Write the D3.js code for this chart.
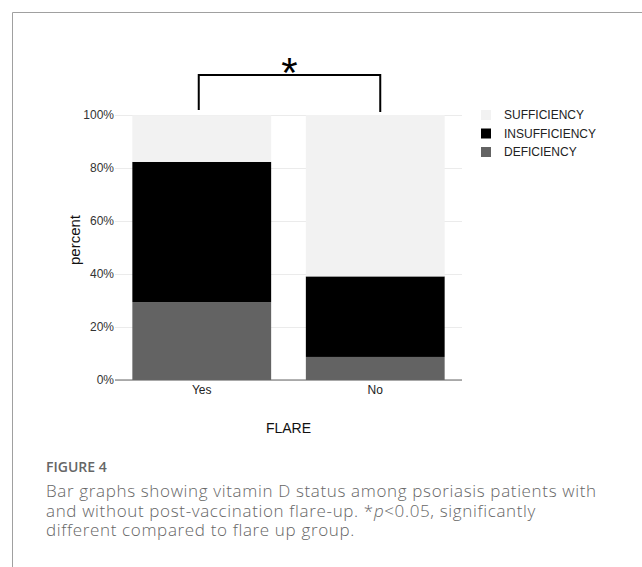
<!DOCTYPE html>
<html>
<head>
<meta charset="utf-8">
<script src="https://cdnjs.cloudflare.com/ajax/libs/d3/7.8.5/d3.min.js"></script>
<style>
  body { margin: 0; background: #fff; }
  svg { display: block; }
</style>
</head>
<body>
<svg id="chart" width="642" height="567"></svg>
<script>
// data (percent of each group)
var groups = ["Yes", "No"];
var statuses = ["DEFICIENCY", "INSUFFICIENCY", "SUFFICIENCY"];
var deficiency = [29.4, 8.7];
var insufficiency = [52.9, 30.4];
var sufficiency = [17.6, 60.9];
var yTicks = [0, 20, 40, 60, 80, 100];
var legendOrder = ["SUFFICIENCY", "INSUFFICIENCY", "DEFICIENCY"];
var colours = { SUFFICIENCY: "#f2f2f2", INSUFFICIENCY: "#000000", DEFICIENCY: "#636363" };

var svg = d3.select("#chart");
var axisFont = "Liberation Sans, Arial, sans-serif";

// frame lines of the figure panel
svg.append("line").attr("x1", 12.5).attr("x2", 642).attr("y1", 12.5).attr("y2", 12.5)
  .attr("stroke", "#a0a0a0").attr("stroke-width", 1);
svg.append("line").attr("x1", 12.5).attr("x2", 12.5).attr("y1", 12.5).attr("y2", 567)
  .attr("stroke", "#a0a0a0").attr("stroke-width", 1);

var x = d3.scaleBand().domain(groups).range([115, 462]).paddingInner(0.2).paddingOuter(0.1);
var y = d3.scaleLinear().domain([0, 100]).range([380, 115]);

// build stacked table
var rows = groups.map(function(g, i) {
  return { group: g, DEFICIENCY: deficiency[i], INSUFFICIENCY: insufficiency[i], SUFFICIENCY: sufficiency[i] };
});
var stacked = d3.stack().keys(statuses)(rows);

// grid
svg.append("g").selectAll("line").data(yTicks).join("line")
  .attr("x1", 115).attr("x2", 462)
  .attr("y1", function(d) { return y(d) + 0.5; })
  .attr("y2", function(d) { return y(d) + 0.5; })
  .attr("stroke", "#ebebeb").attr("stroke-width", 1);

// bars
svg.append("g").selectAll("g").data(stacked).join("g")
  .attr("fill", function(s) { return colours[s.key]; })
  .selectAll("rect").data(function(s) { return s; }).join("rect")
    .attr("x", function(d) { return x(d.data.group); })
    .attr("width", x.bandwidth())
    .attr("y", function(d) { return y(d[1]); })
    .attr("height", function(d) { return y(d[0]) - y(d[1]); });

// y axis labels
svg.append("g").selectAll("text").data(yTicks).join("text")
  .attr("x", 114).attr("y", function(d) { return y(d); })
  .attr("dy", "0.35em")
  .attr("text-anchor", "end")
  .attr("font-family", axisFont)
  .attr("font-size", 12).attr("fill", "#333")
  .text(function(d) { return d + "%"; });

// x axis baseline
svg.append("line").attr("x1", 115).attr("x2", 462).attr("y1", 380).attr("y2", 380)
  .attr("stroke", "#666").attr("stroke-width", 1.2);

// x labels
svg.append("g").selectAll("text").data(groups).join("text")
  .attr("x", function(d) { return x(d) + x.bandwidth() / 2; })
  .attr("y", 393.5)
  .attr("text-anchor", "middle")
  .attr("font-family", axisFont)
  .attr("font-size", 12).attr("fill", "#222")
  .text(function(d) { return d; });

// axis titles
svg.append("text")
  .attr("transform", "translate(80,240) rotate(-90)")
  .attr("text-anchor", "middle")
  .attr("font-family", axisFont)
  .attr("font-size", 15).attr("fill", "#111")
  .text("percent");

svg.append("text")
  .attr("x", 288.5).attr("y", 433)
  .attr("text-anchor", "middle")
  .attr("font-family", axisFont)
  .attr("font-size", 14).attr("fill", "#111")
  .text("FLARE");

// significance bracket
var bx1 = x("Yes") + x.bandwidth() / 2 - 3;
var bx2 = x("No") + x.bandwidth() / 2 + 5;
svg.append("path")
  .attr("d", "M" + bx1 + ",110V75H" + bx2 + "V112")
  .attr("fill", "none").attr("stroke", "#000").attr("stroke-width", 2);
svg.append("text")
  .attr("x", (bx1 + bx2) / 2).attr("y", 87)
  .attr("text-anchor", "middle")
  .attr("font-family", axisFont)
  .attr("font-size", 42).attr("fill", "#000")
  .text("*");

// legend
var legend = svg.append("g").selectAll("g").data(legendOrder).join("g")
  .attr("transform", function(d, i) { return "translate(481," + (115 + i * 18.5) + ")"; });
legend.append("rect")
  .attr("x", 0).attr("y", -5).attr("width", 10).attr("height", 10)
  .attr("fill", function(d) { return colours[d]; });
legend.append("text")
  .attr("x", 23).attr("dy", "0.35em")
  .attr("font-family", axisFont)
  .attr("font-size", 12).attr("fill", "#222")
  .text(function(d) { return d; });

// caption
svg.append("text")
  .attr("x", 46).attr("y", 472)
  .attr("font-family", "Open Sans, sans-serif")
  .attr("font-size", 14).attr("font-weight", 600).attr("fill", "#666")
  .text("FIGURE 4");

var capStyle = function(t) {
  return t.attr("font-family", "Open Sans, sans-serif")
    .attr("font-size", 17).attr("font-weight", 300)
    .attr("letter-spacing", 0.65).attr("fill", "#666");
};
capStyle(svg.append("text").attr("x", 46).attr("y", 497))
  .text("Bar graphs showing vitamin D status among psoriasis patients with");
var l2 = capStyle(svg.append("text").attr("x", 46).attr("y", 516.5));
l2.append("tspan").text("and without post-vaccination flare-up. *");
l2.append("tspan").attr("font-style", "italic").text("p");
l2.append("tspan").text("<0.05, significantly");
capStyle(svg.append("text").attr("x", 46).attr("y", 536))
  .text("different compared to flare up group.");
</script>
</body>
</html>
